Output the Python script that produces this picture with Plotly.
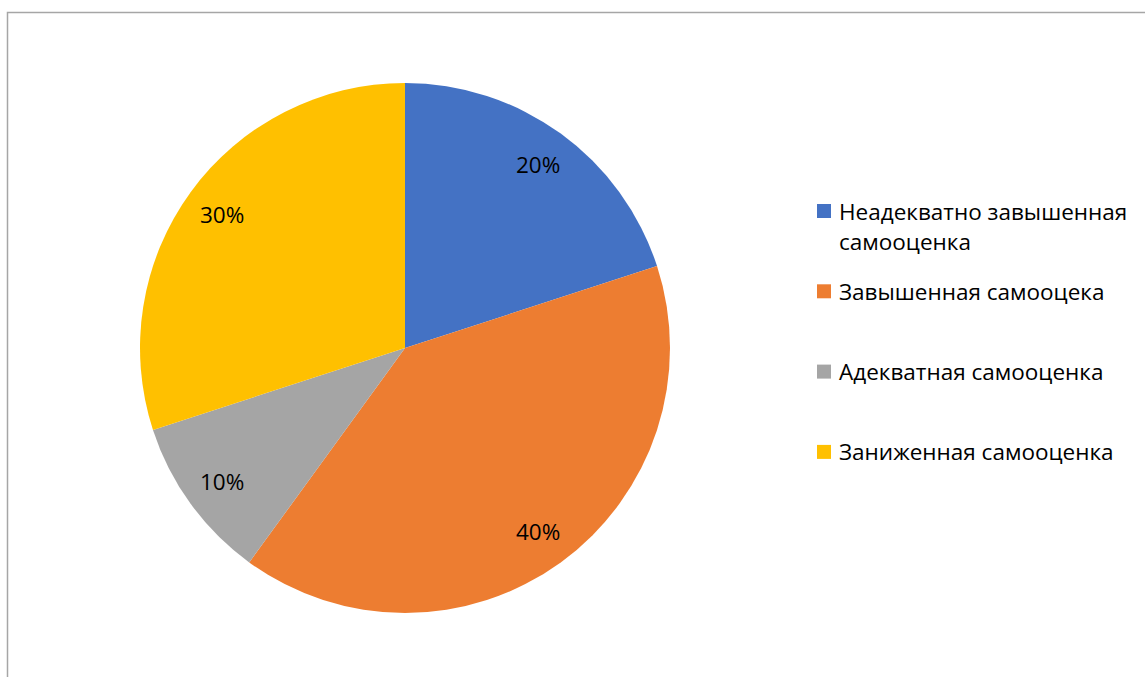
import numpy as np
import plotly.graph_objects as go

categories = ["Неадекватно завышенная самооценка", "Завышенная самооцека", "Адекватная самооценка", "Заниженная самооценка"]
legend_lines = [["Неадекватно завышенная", "самооценка"], ["Завышенная самооцека"], ["Адекватная самооценка"], ["Заниженная самооценка"]]
values = [20, 40, 10, 30]
colors = ["#4472C4", "#ED7D31", "#A5A5A5", "#FFC000"]

W, H = 1145, 677
def px(x): return x / W
def py(y): return 1 - y / H

cx, cy, r = 405, 348, 265
font = "Open Sans"
fsize = 22.5

fig = go.Figure()
fig.add_trace(go.Pie(
    labels=categories, values=values, sort=False, direction="clockwise", rotation=0,
    marker=dict(colors=colors, line=dict(width=0)), textinfo="none", showlegend=False,
    hoverinfo="label+percent",
    domain=dict(x=[px(cx - r), px(cx + r)], y=[py(cy + r), py(cy - r)]),
))

annotations = []
shapes = []
# data labels at ~0.855 r along each slice bisector
vals = np.array(values, dtype=float)
cum = np.cumsum(vals) - vals / 2
ang = cum / vals.sum() * 2 * np.pi
for v, a in zip(values, ang):
    lx = cx + 0.855 * r * np.sin(a)
    ly = cy - 0.855 * r * np.cos(a)
    annotations.append(dict(x=px(lx), y=py(ly), xref="paper", yref="paper", text=f"{v}%",
                            showarrow=False, font=dict(family=font, size=fsize, color="#000000"),
                            xanchor="center", yanchor="middle"))

# legend
leg_y0 = 211
for i, (lines, col) in enumerate(zip(legend_lines, colors)):
    yc = leg_y0 + 80.3 * i
    shapes.append(dict(type="rect", xref="paper", yref="paper", x0=px(817), x1=px(831),
                       y0=py(yc + 7), y1=py(yc - 7), fillcolor=col, line=dict(width=0)))
    for j, t in enumerate(lines):
        annotations.append(dict(x=px(837), y=py(yc + 30 * j), xref="paper", yref="paper", text=t,
                                showarrow=False, font=dict(family=font, size=fsize, color="#000000"),
                                xanchor="left", yanchor="middle"))

# chart border
shapes.append(dict(type="rect", xref="paper", yref="paper", x0=px(7.5), x1=px(1160), y0=py(690), y1=py(12.5),
                   line=dict(color="#A6A6A6", width=1.5), fillcolor="rgba(0,0,0,0)"))

fig.update_layout(width=W, height=H, margin=dict(l=0, r=0, t=0, b=0),
                  paper_bgcolor="white", plot_bgcolor="white",
                  annotations=annotations, shapes=shapes, showlegend=False)
fig.write_html("out.html", config={"displayModeBar": False},
               post_script="document.body.style.margin='0px';")
